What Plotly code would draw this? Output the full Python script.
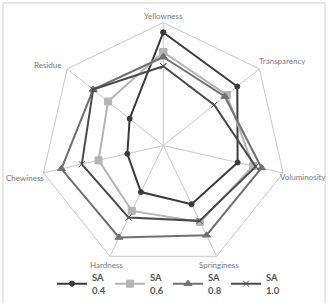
import plotly.graph_objects as go

categories = ["Yellowness", "Transparency", "Voluminosity", "Springiness",
              "Hardness", "Chewiness", "Residue"]
series_names = ["SA<br>0.4", "SA<br>0.6", "SA<br>0.8", "SA<br>1.0"]
sa_04 = [0.92, 0.77, 0.62, 0.53, 0.42, 0.30, 0.35]
sa_06 = [0.76, 0.66, 0.75, 0.69, 0.59, 0.54, 0.575]
sa_08 = [0.72, 0.64, 0.82, 0.81, 0.83, 0.85, 0.73]
sa_10 = [0.645, 0.53, 0.77, 0.68, 0.65, 0.68, 0.73]

values = [sa_04, sa_06, sa_08, sa_10]
colors = ["#3a3a3a", "#b4b4b4", "#707070", "#4a4a4a"]
symbols = ["circle", "square", "triangle-up", "x-thin"]
msizes = [5, 7, 7, 6]

# label anchor positions in pixels (layout only)
label_pos = [(163, 17), (282, 63), (303, 182), (219, 273),
             (106, 273), (25, 183), (48, 67)]

fig = go.Figure()
for name, vals, col, sym, ms in zip(series_names, values, colors, symbols, msizes):
    fig.add_trace(go.Scatterpolar(
        r=vals + [vals[0]],
        theta=categories + [categories[0]],
        mode="lines+markers",
        name=name,
        line=dict(color=col, width=2),
        marker=dict(symbol=sym, size=ms, color=col, line=dict(color=col, width=1)),
    ))

W, H = 328, 303
cx, cy, R = 163.3, 150.0, 126.7
annotations = []
for cat, (px, py) in zip(categories, label_pos):
    annotations.append(dict(text=cat, x=px / W, y=1 - py / H, xref="paper", yref="paper",
                            xanchor="center", yanchor="middle", showarrow=False,
                            font=dict(family="Lato", size=8, color="#7a7a7a")))

fig.update_layout(
    width=W, height=H,
    margin=dict(l=0, r=0, t=0, b=0),
    paper_bgcolor="white",
    plot_bgcolor="white",
    showlegend=True,
    annotations=annotations,
    polar=dict(
        domain=dict(x=[(cx - R) / W, (cx + R) / W], y=[1 - (cy + R) / H, 1 - (cy - R) / H]),
        gridshape="linear",
        bgcolor="white",
        radialaxis=dict(range=[0, 1], showgrid=False, showline=False,
                        showticklabels=False, ticks=""),
        angularaxis=dict(direction="clockwise", rotation=90,
                         showgrid=True, gridcolor="#c8c8c8", gridwidth=1,
                         showline=True, linecolor="#c8c8c8", linewidth=1,
                         ticks="", showticklabels=False),
    ),
    legend=dict(orientation="h", x=52 / W, xanchor="left", y=-0.03, yanchor="bottom",
                font=dict(family="Lato", size=9.5, color="#555555", weight="bold"),
                itemwidth=30, entrywidth=13, bgcolor="rgba(0,0,0,0)", tracegroupgap=0),
    shapes=[dict(type="rect", xref="paper", yref="paper",
                 x0=3 / W, x1=325 / W, y0=-0.05, y1=1 - 3 / H,
                 line=dict(color="#d0d0d0", width=1), fillcolor="rgba(0,0,0,0)")],
)

fig.write_html("out.html")
